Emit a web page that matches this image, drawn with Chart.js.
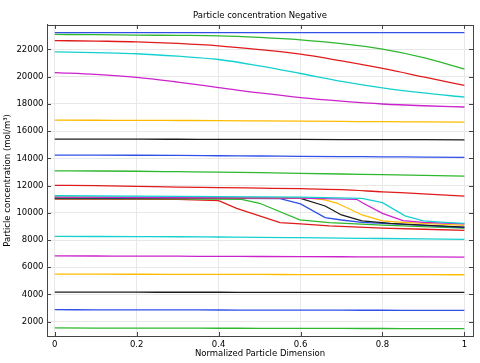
<!DOCTYPE html>
<html>
<head>
<meta charset="utf-8">
<script src="https://cdn.jsdelivr.net/npm/chart.js@4.4.1/dist/chart.umd.min.js"></script>
<style>
  body { margin: 0; background: #fff; }
  canvas { display: block; }
</style>
</head>
<body>
<canvas id="chart" width="480" height="363"></canvas>
<script>
// x positions shared by the smooth curves
const xGrid = [0, 0.1, 0.2, 0.3, 0.4, 0.5, 0.6, 0.7, 0.8, 0.9, 1];

const blue1 = [23230, 23230, 23230, 23230, 23230, 23230, 23230, 23230, 23230, 23230, 23230];
const green1 = [23100, 23080, 23050, 23030, 23000, 22880, 22700, 22420, 22020, 21400, 20570];
const red1 = [22650, 22610, 22560, 22440, 22260, 21980, 21650, 21150, 20600, 19980, 19350];
const cyan1 = [21820, 21760, 21680, 21500, 21260, 20790, 20230, 19650, 19170, 18800, 18500];
const magenta1 = [20300, 20170, 19950, 19600, 19200, 18800, 18460, 18200, 17990, 17860, 17770];
const yellow1 = [16800, 16795, 16790, 16780, 16770, 16750, 16730, 16710, 16690, 16675, 16660];
const black1 = [15410, 15408, 15405, 15400, 15395, 15390, 15385, 15380, 15375, 15368, 15360];
const blue2 = [14240, 14235, 14225, 14210, 14190, 14170, 14150, 14130, 14110, 14090, 14070];
const green2 = [13080, 13070, 13050, 13020, 12990, 12950, 12900, 12850, 12800, 12750, 12700];
const red2 = [12020, 11990, 11940, 11880, 11850, 11810, 11770, 11700, 11540, 11390, 11220];

// the middle group that drops off at different positions
const cyan2X = [0, 0.3, 0.6, 0.75, 0.8, 0.855, 0.9, 0.95, 1];
const cyan2 = [11250, 11200, 11150, 11060, 10750, 9770, 9400, 9300, 9220];
const magenta2X = [0, 0.3, 0.6, 0.737, 0.753, 0.8, 0.85, 0.9, 1];
const magenta2 = [11150, 11120, 11080, 10990, 10700, 9960, 9420, 9300, 9180];
const yellow2X = [0, 0.3, 0.62, 0.66, 0.69, 0.75, 0.8, 0.85, 0.9, 1];
const yellow2 = [11150, 11120, 11080, 10950, 10700, 9840, 9400, 9300, 9220, 9080];
const black2X = [0, 0.3, 0.6, 0.66, 0.7, 0.75, 0.82, 0.9, 1];
const black2 = [11100, 11090, 11060, 10500, 9840, 9400, 9220, 9100, 8950];
const blue3X = [0, 0.3, 0.55, 0.6, 0.66, 0.7, 0.75, 0.8, 0.9, 1];
const blue3 = [11100, 11080, 11040, 10650, 9640, 9470, 9300, 9220, 9080, 8920];
const green3X = [0, 0.3, 0.456, 0.5, 0.598, 0.67, 0.8, 0.9, 1];
const green3 = [11050, 11030, 10990, 10700, 9480, 9280, 9100, 8980, 8870];
const red3X = [0, 0.3, 0.4, 0.444, 0.55, 0.6, 0.67, 0.8, 0.9, 1];
const red3 = [11000, 10980, 10900, 10330, 9280, 9190, 9040, 8880, 8790, 8710];

// lower flat curves
const cyan4 = [8270, 8260, 8250, 8240, 8220, 8200, 8170, 8140, 8110, 8080, 8050];
const magenta4 = [6830, 6825, 6820, 6810, 6800, 6790, 6780, 6770, 6760, 6755, 6750];
const yellow4 = [5490, 5488, 5485, 5480, 5475, 5470, 5465, 5460, 5455, 5452, 5450];
const black4 = [4170, 4168, 4166, 4164, 4162, 4160, 4158, 4156, 4154, 4152, 4150];
const blue4 = [2880, 2875, 2870, 2865, 2860, 2855, 2850, 2845, 2840, 2835, 2830];
const green4 = [1540, 1535, 1530, 1525, 1520, 1515, 1510, 1505, 1500, 1495, 1490];

const xTicks = [0, 0.2, 0.4, 0.6, 0.8, 1];
const yTicks = [2000, 4000, 6000, 8000, 10000, 12000, 14000, 16000, 18000, 20000, 22000];

const colors = {
  blue: '#3050e8',
  green: '#2eb82e',
  red: '#e01b1b',
  cyan: '#16d0d0',
  magenta: '#cc22cc',
  yellow: '#ffbb00',
  black: '#1a1a1a'
};

const font = { family: 'DejaVu Sans', size: 8.5 };

function line(xs, ys, color, smooth) {
  return {
    data: xs.map((x, i) => ({ x: x, y: ys[i] })),
    borderColor: color,
    backgroundColor: color,
    borderWidth: 1.3,
    pointRadius: 0,
    fill: false,
    tension: smooth ? 0.4 : 0,
    cubicInterpolationMode: smooth ? 'monotone' : 'default'
  };
}

const datasets = [
  line(xGrid, blue1, colors.blue, true),
  line(xGrid, green1, colors.green, true),
  line(xGrid, red1, colors.red, true),
  line(xGrid, cyan1, colors.cyan, true),
  line(xGrid, magenta1, colors.magenta, true),
  line(xGrid, yellow1, colors.yellow, true),
  line(xGrid, black1, colors.black, true),
  line(xGrid, blue2, colors.blue, true),
  line(xGrid, green2, colors.green, true),
  line(xGrid, red2, colors.red, true),
  line(cyan2X, cyan2, colors.cyan, false),
  line(magenta2X, magenta2, colors.magenta, false),
  line(yellow2X, yellow2, colors.yellow, false),
  line(black2X, black2, colors.black, false),
  line(blue3X, blue3, colors.blue, false),
  line(green3X, green3, colors.green, false),
  line(red3X, red3, colors.red, false),
  line(xGrid, cyan4, colors.cyan, true),
  line(xGrid, magenta4, colors.magenta, true),
  line(xGrid, yellow4, colors.yellow, true),
  line(xGrid, black4, colors.black, true),
  line(xGrid, blue4, colors.blue, true),
  line(xGrid, green4, colors.green, true)
];

// frame round the plot with inward tick marks on all sides
const framePlugin = {
  id: 'frame',
  afterDraw(chart) {
    const { ctx, chartArea: a, scales } = chart;
    ctx.save();
    ctx.strokeStyle = '#444';
    ctx.lineWidth = 1;
    ctx.strokeRect(Math.round(a.left) + 0.5, Math.round(a.top) + 0.5,
      Math.round(a.right - a.left), Math.round(a.bottom - a.top));
    ctx.beginPath();
    for (const v of xTicks) {
      const px = Math.round(scales.x.getPixelForValue(v)) + 0.5;
      ctx.moveTo(px, a.bottom); ctx.lineTo(px, a.bottom - 4);
      ctx.moveTo(px, a.top); ctx.lineTo(px, a.top + 4);
    }
    for (const v of yTicks) {
      const py = Math.round(scales.y.getPixelForValue(v)) + 0.5;
      ctx.moveTo(a.left, py); ctx.lineTo(a.left + 4, py);
      ctx.moveTo(a.right, py); ctx.lineTo(a.right - 4, py);
    }
    ctx.stroke();
    ctx.restore();
  }
};

const chart = new Chart(document.querySelector('#chart'), {
  type: 'line',
  data: { datasets: datasets },
  options: {
    responsive: false,
    animation: false,
    layout: { padding: { left: 0, right: 7, top: 0, bottom: 0 } },
    plugins: {
      legend: { display: false },
      tooltip: { enabled: false },
      title: {
        display: true,
        text: 'Particle concentration Negative',
        fullSize: false,
        color: '#000',
        font: { family: 'DejaVu Sans', size: 8.5, weight: 'normal' },
        padding: { top: 10.5, bottom: 4.2 }
      }
    },
    scales: {
      x: {
        type: 'linear',
        min: -0.019,
        max: 1.021,
        afterBuildTicks: (s) => { s.ticks = xTicks.map(v => ({ value: v })); },
        afterFit: (s) => { s.height = 27; },
        ticks: {
          color: '#000',
          font: font,
          padding: 4,
          maxRotation: 0,
          callback: (v) => String(Number(v.toFixed(2)))
        },
        grid: { color: '#e8e8e8', drawTicks: false },
        border: { color: '#444' },
        title: {
          display: true,
          text: 'Normalized Particle Dimension',
          color: '#000',
          font: font,
          padding: { top: 0, bottom: 4.5 }
        }
      },
      y: {
        type: 'linear',
        min: 950,
        max: 23800,
        afterBuildTicks: (s) => { s.ticks = yTicks.map(v => ({ value: v })); },
        afterFit: (s) => { s.width = 47; },
        ticks: {
          color: '#000',
          font: font,
          padding: 3.5,
          callback: (v) => String(v)
        },
        grid: { color: '#e8e8e8', drawTicks: false },
        border: { color: '#444' },
        title: {
          display: true,
          text: 'Particle concentration (mol/m³)',
          color: '#000',
          font: font,
          padding: { top: 3, bottom: 0 }
        }
      }
    }
  },
  plugins: [framePlugin]
});
</script>
</body>
</html>
